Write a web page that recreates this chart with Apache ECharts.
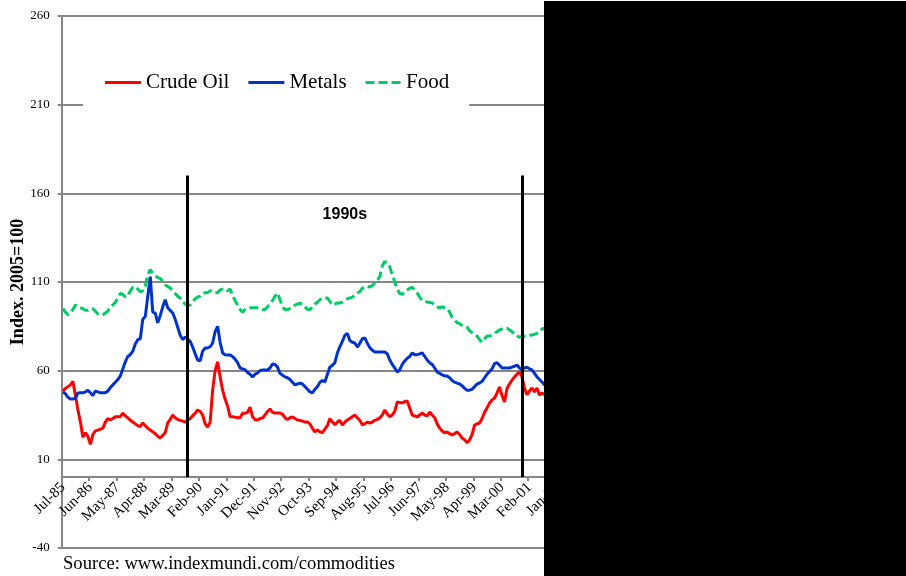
<!DOCTYPE html>
<html>
<head>
<meta charset="utf-8">
<script src="https://cdn.jsdelivr.net/npm/echarts@6.0.0/dist/echarts.min.js"></script>
<style>
  html, body { margin: 0; padding: 0; background: #fff; }
  #chart { width: 906px; height: 576px; }
</style>
</head>
<body>
<div id="chart"></div>
<script>
// Monthly commodity price indices (2005 = 100), starting Jul-1985
const startYear = 1985;
const startMonth = 6;          // July (0-based)
const monthCount = 330;        // axis runs through Dec-2012
const monthNames = ['Jan','Feb','Mar','Apr','May','Jun','Jul','Aug','Sep','Oct','Nov','Dec'];

const categories = [];
for (let i = 0; i < monthCount; i++) {
  const m = (startMonth + i) % 12;
  const y = startYear + Math.floor((startMonth + i) / 12);
  categories.push(monthNames[m] + '-' + String(y % 100).padStart(2, '0'));
}

const crudeOil = [
  48.5, 50, 51, 52, 54, 46, 38, 31, 22.5, 25, 23, 18.5,
  24, 26, 26.5, 27, 27.5, 31, 33, 32.2, 33, 34, 34, 34,
  36, 34.5, 33.5, 32, 31, 30, 29, 28.5, 30.5, 29, 27.6, 26.5,
  25.5, 24.5, 23, 22, 23.5, 25, 30.5, 32.5, 35, 33.5, 32.5, 32,
  31.5, 31, 32, 33, 34.5, 36, 37.8, 37, 35, 30, 28.2, 31,
  49, 60, 65, 56.5, 49, 44, 40, 34, 34, 33.8, 33.5, 33.5,
  36, 36, 36.5, 39.5, 34, 32.5, 32.2, 33, 33.3, 35, 37, 38.4,
  36.5, 36.1, 36.1, 36.1, 35.5, 33.5, 32.5, 33.5, 33.9, 33, 32.2, 32,
  31.5, 31, 31, 30, 27.5, 25.5, 26.5, 25.5, 25, 27, 29, 33,
  31, 29.5, 31, 32, 29.3, 31, 32.2, 33, 34, 35, 33.5, 32,
  29.5, 30, 31, 30.5, 31, 32, 32.5, 33.5, 35, 37.8, 35.5, 34,
  35, 37, 42.4, 42, 41.8, 42.5, 42.9, 39, 35, 34.5, 33.9, 35,
  36.1, 35, 34.5, 36.7, 35, 33.5, 30, 27.6, 26, 25, 25.4, 24.5,
  23.8, 24.5, 25.4, 24, 22, 21, 19.3, 21, 24, 29.3, 30, 30.5,
  33, 36.5, 39, 41.8, 43.5, 44.6, 47.5, 50.8, 46, 42.4, 50, 52.5,
  54.7, 56.5, 58, 59.2, 56.5, 50, 46.5, 48.5, 50.2, 48, 50.2, 46.3,
  47.4, 46.5, 47
];

const metals = [
  48, 47, 45, 44, 44, 44.5, 47.4, 47.5, 47.5, 48, 49, 47.5,
  46, 48.5, 48, 47.5, 47.5, 47.5, 48.5, 50.5, 52, 53.5, 55, 57,
  61, 65, 68, 69, 71, 75, 77.5, 78, 89, 90.5, 102, 113,
  93, 92.5, 87, 91, 96, 100, 95.5, 94, 92.5, 89, 84.5, 80,
  77.5, 79, 78, 76.5, 73.3, 69.5, 66, 65.5, 71, 72.8, 72.8, 73.5,
  75.6, 82, 85, 76, 70, 69, 68.8, 68.8, 68, 66.5, 64.5, 61.5,
  61, 60.5, 59, 58, 56.5, 58, 58.7, 60, 60.4, 60.4, 60.4, 61.5,
  63.8, 63.5, 62, 58.5, 57.5, 56.5, 56, 55, 53.5, 52, 52.5, 53,
  52.5, 51, 49.5, 48, 47.5, 49.5, 51, 53.5, 54.5, 53.6, 58, 62,
  63, 64.5, 70, 73.5, 76.5, 80, 81, 77, 76, 75.6, 73.3, 75.5,
  78, 78.5, 75.5, 73, 71.5, 70.5, 70.5, 70.5, 70.5, 70.5, 69.5, 66,
  63.5, 61.5, 59.2, 60.5, 63.5, 65.5, 67, 68, 70, 69, 69, 69.5,
  70, 68, 66, 64.5, 63.5, 61.5, 59.2, 58.5, 57.6, 57, 57, 56,
  54.5, 53.5, 53, 52.5, 51.5, 50, 49, 49, 49.5, 51, 52.5, 53,
  54, 56, 58, 59.5, 61, 64, 64.5, 63, 61.5, 61.5, 61.5, 61.5,
  62, 62.5, 63.2, 61.5, 60.5, 61.5, 62, 61, 60.4, 58.5, 56.5, 55,
  53.6, 52, 51
];

const food = [
  95, 93, 91.5, 92.5, 94.5, 97, 96, 95.5, 95, 94, 94, 94.5,
  95, 93.5, 92, 91.5, 91.5, 92.5, 93.5, 96, 97, 98.5, 101, 103.5,
  103, 101.5, 102, 105, 107, 107.5, 106, 104.5, 105, 107.5, 114, 117,
  115, 113.5, 112.5, 112, 110.5, 108.3, 107.5, 106.6, 105, 103.5, 102, 101,
  99, 97.5, 97, 97, 99, 100.5, 101.5, 102, 103.5, 104, 104, 105,
  105, 104, 104, 105.5, 106, 105, 105, 106, 102.5, 99.5, 97, 94.5,
  93, 94.5, 95.3, 95.5, 95.5, 95.5, 95.5, 95, 94.5, 94.5, 96, 97.5,
  99.5, 102, 103.8, 100, 96, 94.5, 94.5, 95, 96, 97, 97.5, 98,
  97.5, 96, 94.5, 94.5, 96, 97.5, 98.7, 100, 101, 101, 101, 99,
  97, 97.5, 98.2, 98.2, 98.7, 99.5, 100.5, 101, 101.5, 102.5, 103.8, 104.5,
  106.5, 107.5, 107.5, 107.2, 108, 109.4, 111, 113, 119, 121.5, 121, 118.5,
  114, 110, 106, 103.5, 103, 104.5, 105.5, 106.5, 107, 105.5, 103.8, 101.5,
  99.5, 99, 98.7, 98.5, 98.2, 97, 96, 95.5, 96, 95.5, 95.3, 93,
  90, 88.5, 87, 86.5, 85.5, 85, 84.5, 82.5, 81.5, 80.5, 79.5, 77.5,
  76, 78, 79.5, 79.5, 80, 81, 82, 83, 83.5, 84, 84, 83,
  82, 80.5, 79.5, 79, 79, 79.5, 79.5, 80, 80.1, 80.5, 81, 81.8,
  83.5, 84, 84
];

// Decade markers and label
const decadeBounds = ['Sep-89', 'Nov-00'];
const decadeTop = 170;
const decadeLabel = { text: '1990s', month: 'Dec-94', value: 148 };

const serif = "'Liberation Serif', 'Times New Roman', serif";
const gridGray = '#878787';

// y range of the value axis; the category axis sits on the zero line
const yMin = -40, yMax = 260;
const gridTop = 16, gridBottom = 28, chartHeight = 576;
const plotHeight = chartHeight - gridTop - gridBottom;
const zeroOffset = -plotHeight * (0 - yMin) / (yMax - yMin);

// legend keys: solid stroke and dashed stroke
const solidKey = 'path://M0,0H36V3H0Z';
const dashedKey = 'path://M0,0H9V3H0Z M13,0H22V3H13Z M26,0H35V3H26Z';

const chart = echarts.init(document.getElementById('chart'), null, { renderer: 'canvas' });

chart.setOption({
  animation: false,
  backgroundColor: '#ffffff',
  grid: {
    left: 61.7, top: gridTop, right: 21, bottom: gridBottom,
    containLabel: false,
    outerBoundsMode: 'none'
  },
  legend: {
    left: 83, top: 48,
    padding: [24, 20, 24, 22],
    backgroundColor: '#ffffff',
    itemWidth: 36, itemHeight: 3, itemGap: 19,
    textStyle: { fontFamily: serif, fontSize: 21, color: '#000' },
    data: [
      { name: 'Crude Oil', icon: solidKey },
      { name: 'Metals', icon: solidKey },
      { name: 'Food', icon: dashedKey }
    ]
  },
  xAxis: {
    type: 'category',
    data: categories,
    boundaryGap: true,
    offset: zeroOffset,
    axisLine: { onZero: false, lineStyle: { color: gridGray, width: 2 } },
    axisTick: { show: true, interval: 10, length: 4, inside: false, lineStyle: { color: gridGray, width: 2 } },
    axisLabel: {
      interval: 10, rotate: 45, margin: 8,
      fontFamily: serif, fontSize: 15, color: '#000'
    },
    splitLine: { show: false }
  },
  yAxis: {
    type: 'value',
    min: yMin, max: yMax, interval: 50,
    name: 'Index. 2005=100',
    nameLocation: 'middle',
    nameGap: 34,
    nameMoveOverlap: false,
    nameTextStyle: { fontFamily: serif, fontSize: 18, fontWeight: 'bold', color: '#000' },
    axisLine: { show: true, lineStyle: { color: gridGray, width: 2 } },
    axisTick: { show: true, length: 4, lineStyle: { color: gridGray, width: 2 } },
    axisLabel: { fontFamily: serif, fontSize: 13, color: '#000', margin: 12 },
    splitLine: { show: true, lineStyle: { color: gridGray, width: 2 } }
  },
  series: [
    {
      name: 'Crude Oil', type: 'line', data: crudeOil,
      symbol: 'none', smooth: false,
      lineStyle: { color: '#FF0000', width: 3 },
      itemStyle: { color: '#FF0000' }
    },
    {
      name: 'Metals', type: 'line', data: metals,
      symbol: 'none', smooth: false,
      lineStyle: { color: '#0033CC', width: 3 },
      itemStyle: { color: '#0033CC' }
    },
    {
      name: 'Food', type: 'line', data: food,
      symbol: 'none', smooth: false,
      lineStyle: { color: '#00CC66', width: 3, type: [9, 4] },
      itemStyle: { color: '#00CC66' },
      markLine: {
        silent: true, symbol: 'none', animation: false,
        lineStyle: { color: '#000', width: 3, type: 'solid' },
        label: { show: false },
        data: decadeBounds.map(function (m) {
          return [{ coord: [m, 0] }, { coord: [m, decadeTop] }];
        })
      },
      markPoint: {
        silent: true, animation: false,
        symbol: 'circle', symbolSize: 1,
        itemStyle: { color: 'rgba(0,0,0,0)' },
        label: {
          show: true, position: 'inside',
          formatter: decadeLabel.text,
          fontFamily: "'Liberation Sans', Arial, sans-serif",
          fontWeight: 'bold', fontSize: 16, color: '#000'
        },
        data: [{ coord: [decadeLabel.month, decadeLabel.value] }]
      }
    }
  ],
  graphic: [
    {
      type: 'text', left: 63, top: 555, z: 50,
      style: {
        text: 'Source: www.indexmundi.com/commodities',
        font: "18.6px 'Liberation Serif', 'Times New Roman', serif",
        fill: '#000'
      }
    },
    {
      type: 'rect', left: 544, top: 1, z: 100,
      shape: { width: 362, height: 575 },
      style: { fill: '#000' }
    }
  ]
});
</script>
</body>
</html>
